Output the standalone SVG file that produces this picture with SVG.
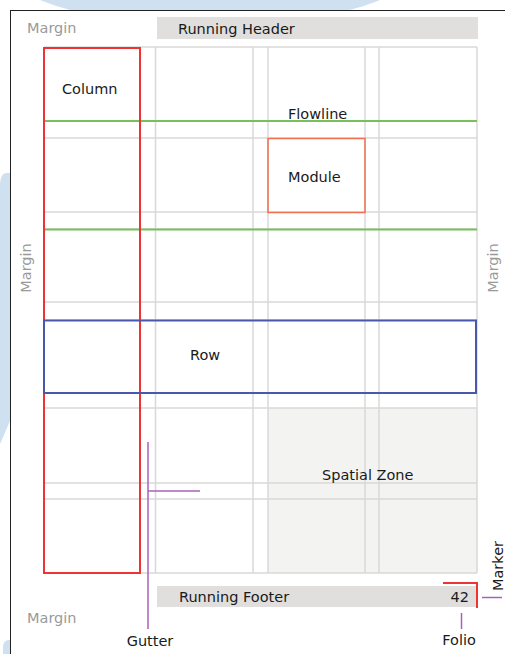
<svg xmlns="http://www.w3.org/2000/svg" width="505" height="654" viewBox="0 0 505 654">
<style>
text{font-family:"DejaVu Sans","Liberation Sans",sans-serif;font-size:14.5px;fill:#1a1a1a}
.mg{fill:#9a9a9a}
.grid line{stroke:#d8d8d8;stroke-width:1.5}
.band{fill:#e0dfdd}
.lead{stroke:#a860b8;stroke-width:1.5;fill:none}
</style>
<g id="backdrop">
<ellipse cx="210" cy="-28" rx="200" ry="53" fill="#cfe0f0"/>
<path d="M10,173 L7,173 Q0,173 0,186 L0,444 L10,421 Z" fill="#cfe0f0"/>
<path d="M10,640 L9,640 Q3,640 3,648 L3,654 L10,654 Z" fill="#cfe0f0"/>
<rect x="10.5" y="10.5" width="520" height="680" fill="#ffffff" stroke="#222" stroke-width="1"/>
</g>
<g id="margin-labels">
<text class="mg" x="27" y="33">Margin</text>
<text class="mg" x="27" y="623">Margin</text>
<text class="mg" transform="translate(30.5,268) rotate(-90)" text-anchor="middle">Margin</text>
<text class="mg" transform="translate(498,268) rotate(-90)" text-anchor="middle">Margin</text>
</g>
<g id="running-header">
<rect class="band" x="157" y="17" width="321" height="22"/>
<text x="178" y="33.5">Running Header</text>
</g>
<g id="spatial-zone">
<rect x="268" y="408" width="209" height="165" fill="#f3f3f2"/>
</g>
<g id="grid" class="grid">
<line x1="44" y1="47" x2="477" y2="47"/>
<line x1="44" y1="121" x2="477" y2="121"/>
<line x1="44" y1="138" x2="477" y2="138"/>
<line x1="44" y1="212" x2="477" y2="212"/>
<line x1="44" y1="229" x2="477" y2="229"/>
<line x1="44" y1="302" x2="477" y2="302"/>
<line x1="44" y1="320" x2="477" y2="320"/>
<line x1="44" y1="393" x2="477" y2="393"/>
<line x1="44" y1="408" x2="477" y2="408"/>
<line x1="44" y1="483" x2="477" y2="483"/>
<line x1="44" y1="499" x2="477" y2="499"/>
<line x1="44" y1="573" x2="477" y2="573"/>
<line x1="44" y1="47" x2="44" y2="573"/>
<line x1="140" y1="47" x2="140" y2="573"/>
<line x1="155.5" y1="47" x2="155.5" y2="573"/>
<line x1="253" y1="47" x2="253" y2="573"/>
<line x1="268" y1="47" x2="268" y2="573"/>
<line x1="365" y1="47" x2="365" y2="573"/>
<line x1="379" y1="47" x2="379" y2="573"/>
<line x1="477" y1="47" x2="477" y2="573"/>
</g>
<g id="flowlines">
<line x1="44" y1="121" x2="477" y2="121" stroke="#78c05a" stroke-width="2.2"/>
<line x1="44" y1="229.5" x2="477" y2="229.5" stroke="#78c05a" stroke-width="2.2"/>
<text x="288" y="118.5">Flowline</text>
</g>
<g id="column">
<rect x="44" y="48" width="96" height="525" fill="none" stroke="#ee3333" stroke-width="2"/>
<text x="62" y="93.5">Column</text>
</g>
<g id="module">
<rect x="268" y="138.5" width="97" height="74" fill="none" stroke="#f07050" stroke-width="1.5"/>
<text x="288" y="181.5">Module</text>
</g>
<g id="row">
<rect x="44" y="320.5" width="432" height="72.5" fill="none" stroke="#4858ad" stroke-width="2"/>
<text x="190" y="360">Row</text>
</g>
<g id="spatial-zone-label">
<text x="322" y="479.5">Spatial Zone</text>
</g>
<g id="running-footer">
<rect class="band" x="157" y="586" width="320" height="21"/>
<text x="179" y="602">Running Footer</text>
</g>
<g id="folio">
<text x="469" y="602" text-anchor="end">42</text>
<text x="459" y="644.5" text-anchor="middle">Folio</text>
</g>
<g id="marker">
<path d="M443,583 L477,583 L477,608" fill="none" stroke="#ee3333" stroke-width="2"/>
<text transform="translate(503,566) rotate(-90)" text-anchor="middle">Marker</text>
</g>
<g id="gutter">
<text x="150" y="645.5" text-anchor="middle">Gutter</text>
</g>
<g id="connectors">
<line class="lead" x1="148" y1="442" x2="148" y2="629"/>
<line class="lead" x1="148" y1="491" x2="200" y2="491"/>
<line class="lead" x1="482" y1="597.5" x2="502" y2="597.5"/>
<line class="lead" x1="461.5" y1="613" x2="461.5" y2="629"/>
</g>
</svg>
